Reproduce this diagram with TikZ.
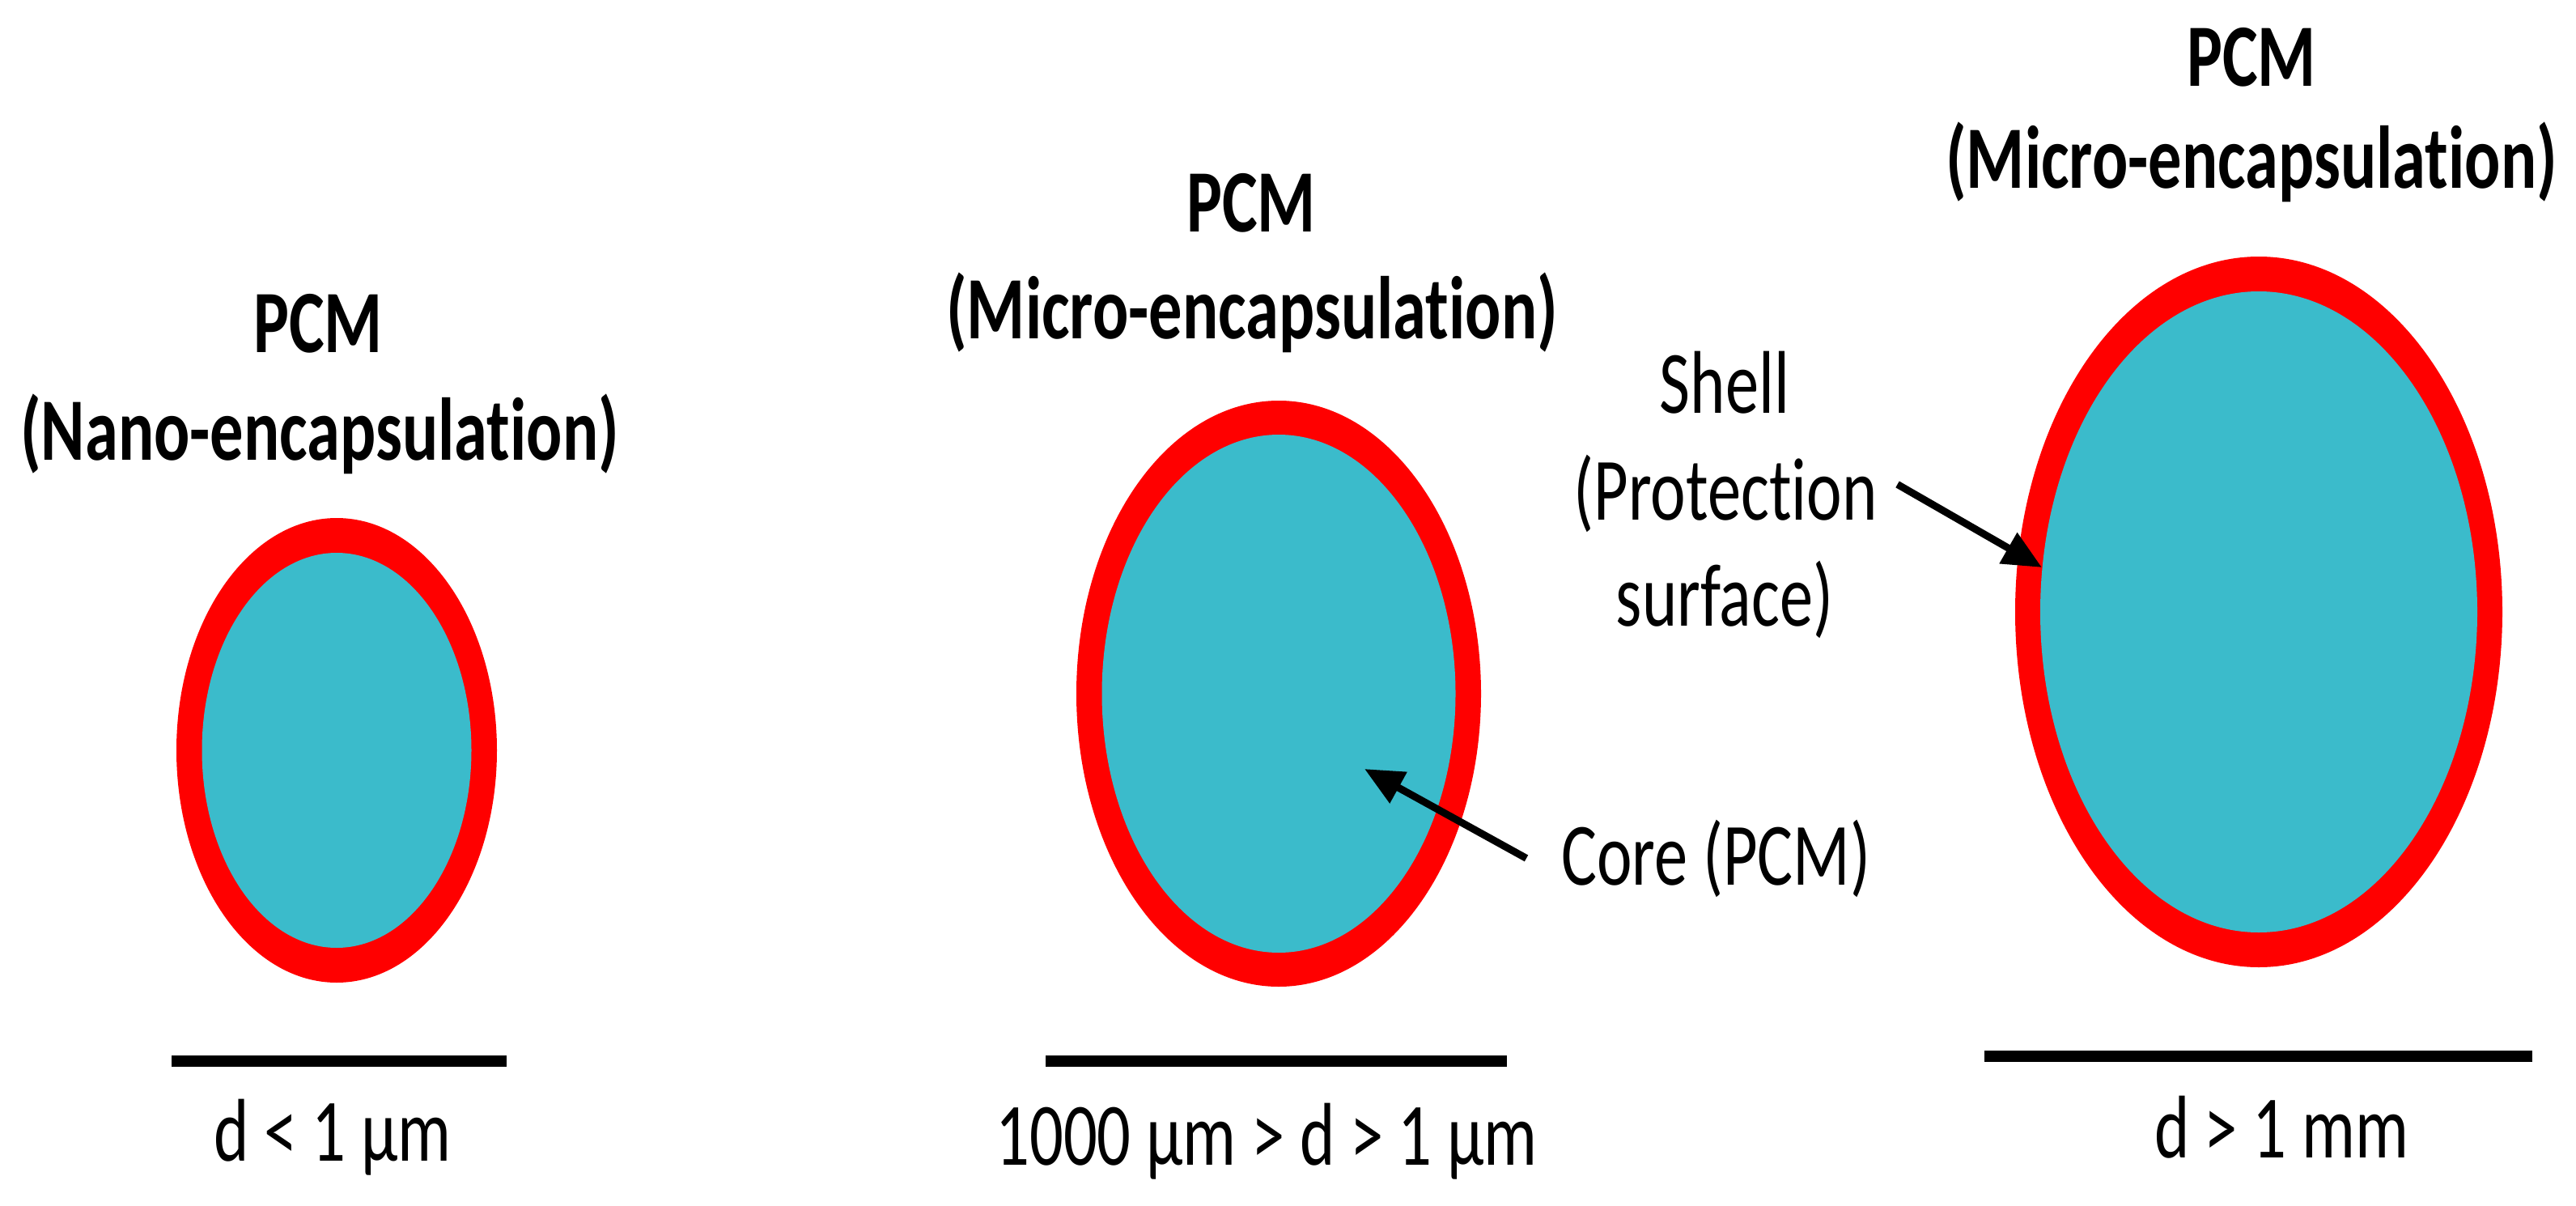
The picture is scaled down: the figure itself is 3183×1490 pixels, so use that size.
\documentclass[tikz,border=0pt]{standalone}
\usepackage{fontspec}
\setmainfont{Carlito}[FakeStretch=0.75,Ligatures=NoCommon]
\usetikzlibrary{shapes.geometric,arrows.meta}
\definecolor{shellred}{RGB}{255,0,0}
\definecolor{corecyan}{RGB}{59,187,203}
\begin{document}
\begin{tikzpicture}[x=1pt,y=-1pt,
  every node/.style={font=\fontsize{110}{132}\selectfont},
  title/.style={anchor=base,inner sep=0pt,font=\fontsize{110}{132}\selectfont\bfseries},
  lbl/.style={anchor=base,inner sep=0pt},
  outerell/.style={ellipse,fill=shellred,inner sep=0pt,draw=none},
  innerell/.style={ellipse,fill=corecyan,inner sep=0pt,draw=none},
  bar/.style={line width=14pt},
  arr/.style={line width=9pt,-{Triangle[length=48pt,width=42pt]}}]
\useasboundingbox (0,0) rectangle (3183,1490);
\fill[white] (0,0) rectangle (3183,1490);

% titles
\node[title] (t1a) at (393,435) {PCM};
\node[title] (t1b) at (395,568) {(Nano-encapsulation)};
\node[title] (t2a) at (1546,286) {PCM};
\node[title] (t2b) at (1547,418) {(Micro-encapsulation)};
\node[title] (t3a) at (2782,107) {PCM};
\node[title] (t3b) at (2782,233) {(Micro-encapsulation)};

% capsules
\node[outerell,minimum width=396pt,minimum height=574pt] (e1o) at (416,927) {};
\node[innerell,minimum width=333pt,minimum height=488pt] (e1i) at (416,927) {};
\node[outerell,minimum width=500pt,minimum height=724pt] (e2o) at (1580,857) {};
\node[innerell,minimum width=437pt,minimum height=640pt] (e2i) at (1580,857) {};
\node[outerell,minimum width=602pt,minimum height=878pt] (e3o) at (2791,756) {};
\node[innerell,minimum width=540pt,minimum height=792pt] (e3i) at (2791,756) {};

% scale bars
\coordinate (b1l) at (212,1311);
\coordinate (b1r) at (626,1311);
\coordinate (b2l) at (1292,1311);
\coordinate (b2r) at (1862,1311);
\coordinate (b3l) at (2452,1305);
\coordinate (b3r) at (3129,1305);
\draw[bar] (b1l) -- (b1r);
\draw[bar] (b2l) -- (b2r);
\draw[bar] (b3l) -- (b3r);

\node[lbl] (d1) at (411,1434) {d < 1 µm};
\node[lbl] (d2) at (1565,1439) {1000 µm > d > 1 µm};
\node[lbl] (d3) at (2819,1430) {d > 1 mm};

% labels with arrows
\node[lbl] (shell1) at (2131,510) {Shell};
\node[anchor=base,inner ysep=0pt,inner xsep=25pt] (shell2) at (2132,642) {(Protection};
\node[lbl] (shell3) at (2131,773) {surface)};
\coordinate (shelltip) at (2523,701);
\draw[arr] ([yshift=11pt]shell2.east) -- (shelltip);

\node[anchor=base west,inner ysep=0pt,inner xsep=43pt] (core) at (1886,1093) {Core (PCM)};
\coordinate (coretip) at (1686,950);
\draw[arr] (core.west) -- (coretip);
\end{tikzpicture}
\end{document}
